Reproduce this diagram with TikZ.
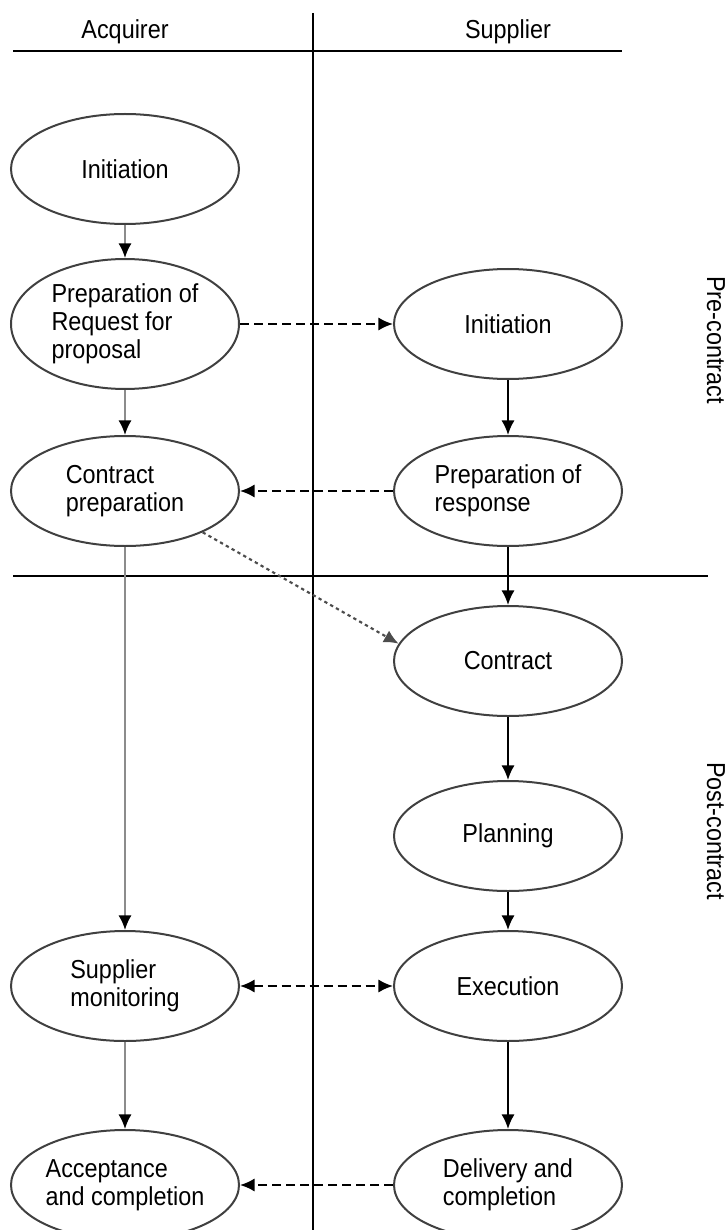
\documentclass[tikz,border=0pt]{standalone}
\usepackage{fontspec}
\setmainfont{Liberation Sans}[FakeStretch=0.9]
\usetikzlibrary{positioning,arrows.meta,shapes.geometric}

\begin{document}
\begin{tikzpicture}[
  x=0.75pt, y=-0.75pt,
  font=\fontsize{19.5}{21}\selectfont,
  node distance=30pt and 114.75pt,
  >={Latex[length=11pt,width=10pt]},
  phase/.style={ellipse, draw=black!75, line width=1.5pt, inner sep=0pt, minimum width=171pt, minimum height=82.5pt, align=left},
  lane/.style={line width=2.2pt},
  acq/.style={-{Latex[length=11pt,width=10pt,color=black]}, draw=black!45, line width=1.6pt},
  sup/.style={->, line width=1.6pt},
  msg/.style={line width=1.6pt, dash pattern=on 6.75pt off 3.75pt},
  hint/.style={->, line width=1.6pt, black!70, dash pattern=on 2.5pt off 2.5pt}
]
\useasboundingbox (0,0) rectangle (727,1230);

\node (hacq) at (125,32) {Acquirer};
\node (hsup) at (508,32) {Supplier};
\node[rotate=-90] (pre) at (716,340) {Pre-contract};
\node[rotate=-90] (post) at (716,831) {Post-contract};

\draw[lane] (13,51) -- (622,51);
\draw[lane] (13,576) -- (708,576);
\draw[lane] (313,13) -- (313,1230);

\node[phase] (ainit) at (125,169) {Initiation};
\node[phase, below=24.75pt of ainit, minimum height=97.5pt] (arfp) {Preparation of\\Request for\\proposal};
\node[phase, below=33.75pt of arfp] (aprep) {Contract\\preparation};
\node[phase, below=287.25pt of aprep] (amon) {Supplier\\monitoring};
\node[phase, below=65.25pt of amon] (aacc) {Acceptance\\and completion};
\node[phase, right=of arfp] (sinit) {Initiation};
\node[phase, right=of aprep] (sresp) {Preparation of\\response};
\node[phase, below=43.5pt of sresp] (scon) {Contract};
\node[phase, below=47.25pt of scon] (splan) {Planning};
\node[phase, right=of amon] (sexec) {Execution};
\node[phase, right=of aacc] (sdel) {Delivery and\\completion};

\draw[acq] (ainit) -- (arfp);
\draw[acq] (arfp) -- (aprep);
\draw[acq] (aprep) -- (amon);
\draw[acq] (amon) -- (aacc);
\draw[sup] (sinit) -- (sresp);
\draw[sup] (sresp) -- (scon);
\draw[sup] (scon) -- (splan);
\draw[sup] (splan) -- (sexec);
\draw[sup] (sexec) -- (sdel);
\draw[msg, ->] (arfp) -- (sinit);
\draw[msg, ->] (sresp) -- (aprep);
\draw[hint] (aprep.-28) -- (scon.171);
\draw[msg, <->] (amon) -- (sexec);
\draw[msg, ->] (sdel) -- (aacc);
\end{tikzpicture}
\end{document}
